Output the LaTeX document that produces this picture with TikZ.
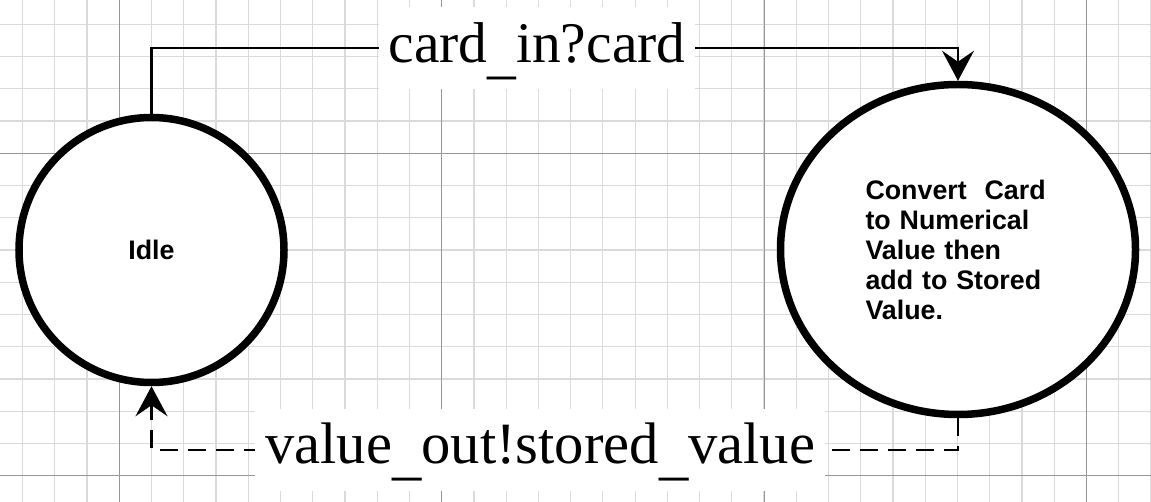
\documentclass[tikz,border=0pt]{standalone}
\usepackage{fontspec}
\setmainfont{Liberation Serif}
\setsansfont{Liberation Sans}
\usetikzlibrary{arrows.meta,shapes.geometric}

\definecolor{minorgrid}{RGB}{218,218,218}
\definecolor{majorgrid}{RGB}{150,150,150}

\newcommand{\lowunder}{\raisebox{-0.17em}{\_}}

\tikzset{
  state/.style={draw, line width=7.5pt, fill=white, inner sep=0pt,
    font=\sffamily\bfseries\fontsize{26.8}{30}\selectfont},
  flow/.style={line width=2.2pt, -{Stealth[length=30pt,width=32pt,inset=11pt]}},
  lbl/.style={fill=white, inner xsep=10pt, inner ysep=13pt, text height=42pt,
    text depth=14pt, font=\fontsize{57.5}{66}\selectfont}
}

\begin{document}
\begin{tikzpicture}[x=1pt,y=-1pt]
  \useasboundingbox (0,0) rectangle (1151,502);
  \fill[white] (0,0) rectangle (1151,502);
  % grid
  \foreach \i in {0,...,35}
    \draw[minorgrid, line width=1.2pt] (22.55+32.24*\i,0) -- (22.55+32.24*\i,502);
  \foreach \j in {0,...,14}
    \draw[minorgrid, line width=1.2pt] (0,24.3+32.24*\j) -- (1151,24.3+32.24*\j);
  \foreach \i in {119.3,441.7,764.1,1086.5}
    \draw[majorgrid, line width=1pt] (\i,0) -- (\i,502);
  \foreach \j in {153.3,475.7}
    \draw[majorgrid, line width=1pt] (0,\j) -- (1151,\j);

  % states
  \node[state, circle, minimum size=265pt] (idle) at (151.5,250) {Idle};
  \node[state, ellipse, minimum width=355pt, minimum height=330pt,
    text width=185pt, align=left] (conv) at (958,249.5)
    {Convert\ \ Card\\ to Numerical\\ Value then\\ add to Stored\\ Value.};

  % transitions
  \draw[flow] (idle.north) -- ++(0,-65.5) -| node[lbl, pos=0.239] {card\lowunder in?card} (conv.north);
  \draw[flow, dash pattern=on 18pt off 10pt] (conv.south) -- ++(0,31.5) -| node[lbl, pos=0.259, font=\fontsize{58.6}{66}\selectfont] {value\lowunder out!stored\lowunder value} (idle.south);
\end{tikzpicture}
\end{document}
